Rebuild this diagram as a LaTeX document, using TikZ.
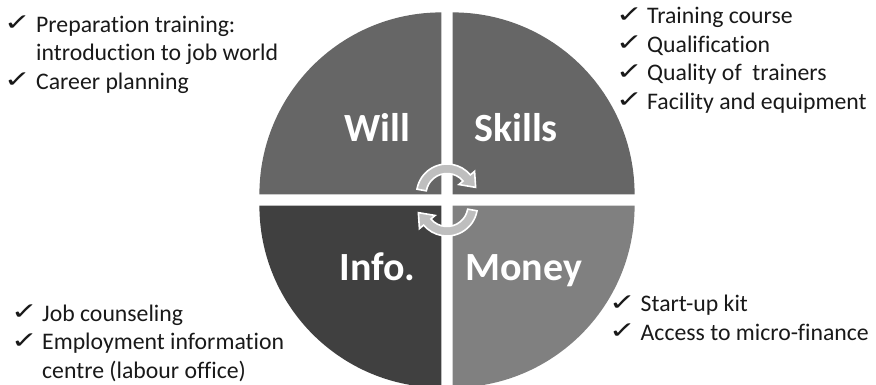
\documentclass[tikz,border=0pt]{standalone}
\usepackage{fontspec}
\setmainfont{Carlito}[Ligatures=NoCommon]
\newfontfamily\symfont{DejaVu Sans}
\definecolor{quadmid}{RGB}{102,102,102}
\definecolor{quaddark}{RGB}{64,64,64}
\definecolor{quadlight}{RGB}{128,128,128}
\definecolor{arrowgrey}{RGB}{190,190,190}
\definecolor{inktext}{RGB}{25,25,25}
\newcommand{\tickmark}{\scalebox{1.25}[0.9]{\symfont ✓}}
\begin{document}
\begin{tikzpicture}[x=1pt,y=1pt,
  biglabel/.style={font=\fontsize{40}{48}\selectfont\bfseries, text=white, anchor=base, inner sep=0pt},
  itemtext/.style={font=\fontsize{23.75}{28.5}\selectfont, text=inktext, anchor=base west, inner sep=0pt},
  tick/.style={font=\fontsize{26}{30}\selectfont, text=inktext, inner sep=0pt},
  cyclearrow/.style={fill=arrowgrey, draw=white, line width=1.6pt, line join=miter}
]
\useasboundingbox (0,0) rectangle (876,385);

% four quarter discs, separated by white gaps
\fill[quadmid]   (441.4,190.6) -- ++(0,182)  arc[start angle=90,  end angle=180, radius=182] -- cycle;
\fill[quadmid]   (452.6,190.6) -- ++(182,0)  arc[start angle=0,   end angle=90,  radius=182] -- cycle;
\fill[quaddark]  (441.4,179.4) -- ++(-182,0) arc[start angle=180, end angle=270, radius=182] -- cycle;
\fill[quadlight] (452.6,179.4) -- ++(0,-182) arc[start angle=270, end angle=360, radius=182] -- cycle;

% circular arrows in the middle
\begin{scope}[shift={(447,190.5)}]
  \path[cyclearrow] (170:30.5) arc[start angle=170, end angle=40, radius=30.5]
    -- (40:36) -- (14:29.5) -- (40:15.5) -- (40:21)
    arc[start angle=40, end angle=170, radius=21] -- cycle;
\end{scope}
\begin{scope}[shift={(447,179.5)}, rotate=180]
  \path[cyclearrow] (170:30.5) arc[start angle=170, end angle=40, radius=30.5]
    -- (40:36) -- (14:29.5) -- (40:15.5) -- (40:21)
    arc[start angle=40, end angle=170, radius=21] -- cycle;
\end{scope}

% quadrant titles
\node[biglabel] (will)   at (377,243.3)   {Will};
\node[biglabel] (skills) at (516,243.3)   {Skills};
\node[biglabel] (info)   at (377.5,104.3) {Info.};
\node[biglabel] (money)  at (523.7,104.3) {Money};

% upper left list
\node[tick] (tl1c) at (17.5,361.5) {\tickmark};
\node[itemtext] (tl1) at (36,352.5) {Preparation training:};
\node[itemtext] (tl1b) at (36,324) {introduction to job world};
\node[tick] (tl2c) at (17.5,304.5) {\tickmark};
\node[itemtext] (tl2) at (36,295.5) {Career planning};

% upper right list
\node[tick] (tr1c) at (629.5,370) {\tickmark};
\node[itemtext] (tr1) at (647,361) {Training course};
\node[tick] (tr2c) at (629.5,341.5) {\tickmark};
\node[itemtext] (tr2) at (647,332.5) {Qualification};
\node[tick] (tr3c) at (629.5,313) {\tickmark};
\node[itemtext] (tr3) at (647,304) {Quality of\ \ trainers};
\node[tick] (tr4c) at (629.5,284.5) {\tickmark};
\node[itemtext] (tr4) at (647,275.5) {Facility and equipment};

% lower left list
\node[tick] (bl1c) at (24.5,72.5) {\tickmark};
\node[itemtext] (bl1) at (42,63.5) {Job counseling};
\node[tick] (bl2c) at (24.5,44) {\tickmark};
\node[itemtext] (bl2) at (42,35) {Employment information};
\node[itemtext] (bl2b) at (42,6.5) {centre (labour office)};

% lower right list
\node[tick] (br1c) at (622.5,82) {\tickmark};
\node[itemtext] (br1) at (640.5,73) {Start-up kit};
\node[tick] (br2c) at (622.5,53.5) {\tickmark};
\node[itemtext] (br2) at (640.5,44.5) {Access to micro-finance};
\end{tikzpicture}
\end{document}
